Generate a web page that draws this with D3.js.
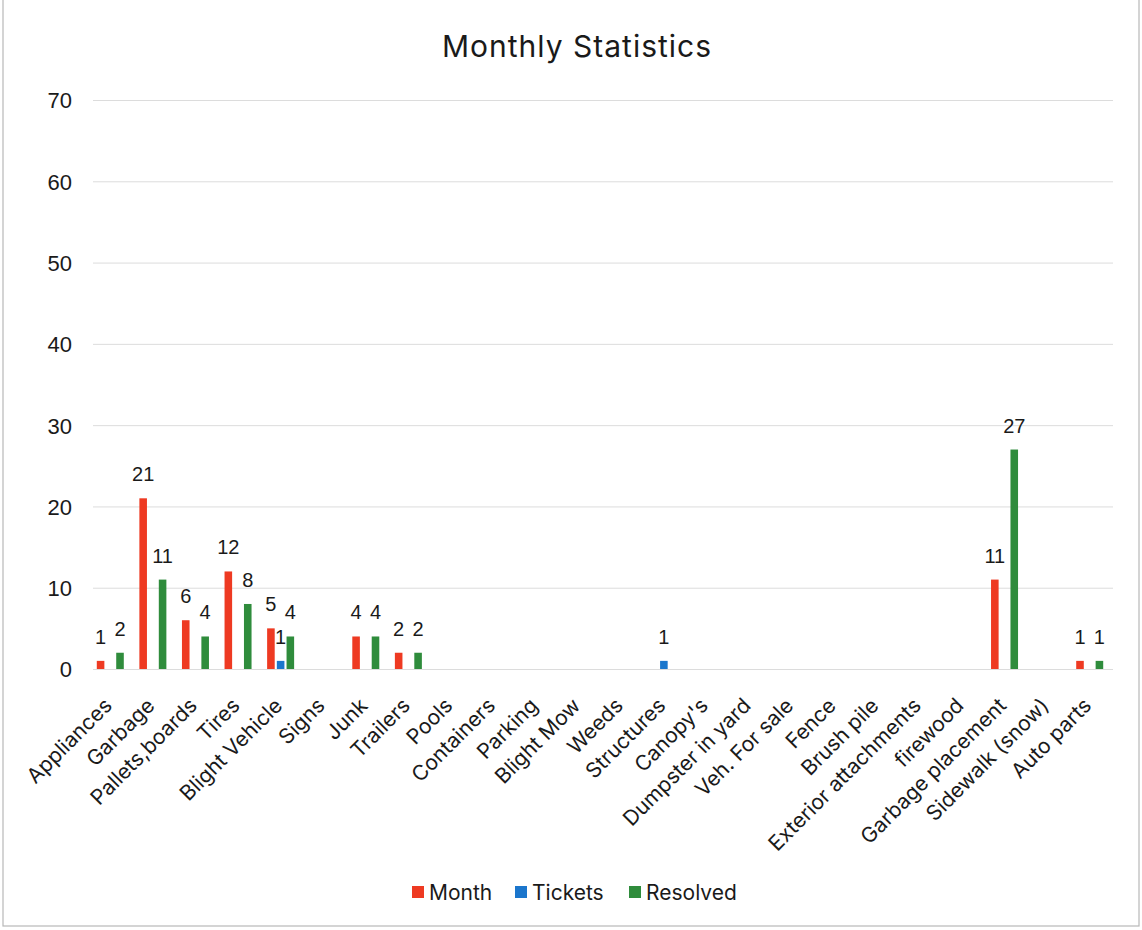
<!DOCTYPE html>
<html>
<head>
<meta charset="utf-8">
<script src="https://cdn.jsdelivr.net/npm/d3@7"></script>
<style>
  body { margin: 0; background: #fff; }
  .grid line { stroke: #dcdcdc; stroke-width: 1; }
  .grid path { display: none; }
  .axis text { font-family: "Liberation Sans", Arial, sans-serif; font-size: 22px; fill: #1a1a1a; }
  .cat text { font-family: Inter, "Open Sans", sans-serif; font-size: 21px; fill: #1a1a1a; }
  .lbl { font-family: "Liberation Sans", Arial, sans-serif; font-size: 20px; fill: #1a1a1a; }
</style>
</head>
<body>
<script>
// categories and series
const categories = ['Appliances', 'Garbage', 'Pallets,boards', 'Tires', 'Blight Vehicle', 'Signs', 'Junk',
  'Trailers', 'Pools', 'Containers', 'Parking', 'Blight Mow', 'Weeds', 'Structures', "Canopy's",
  'Dumpster in yard', 'Veh. For sale', 'Fence', 'Brush pile', 'Exterior attachments', 'firewood',
  'Garbage placement', 'Sidewalk (snow)', 'Auto parts']
const month    = [1, 21, 6, 12, 5, 0, 4, 2, 0, 0, 0, 0, 0, 0, 0, 0, 0, 0, 0, 0, 0, 11, 0, 1]
const tickets  = [0, 0, 0, 0, 1, 0, 0, 0, 0, 0, 0, 0, 0, 1, 0, 0, 0, 0, 0, 0, 0, 0, 0, 0]
const resolved = [2, 11, 4, 8, 4, 0, 4, 2, 0, 0, 0, 0, 0, 0, 0, 0, 0, 0, 0, 0, 0, 27, 0, 1]
const seriesNames = ['Month', 'Tickets', 'Resolved']
const yTicks = [0, 10, 20, 30, 40, 50, 60, 70]

const colors = {Month: '#ee3a22', Tickets: '#1b76cc', Resolved: '#2f8c3c'}
const series = [
  {name: 'Month', values: month},
  {name: 'Tickets', values: tickets},
  {name: 'Resolved', values: resolved}
]

const width = 1142
const height = 930

const svg = d3.select('body').append('svg')
    .attr('width', width)
    .attr('height', height)

// scan frame
svg.append('rect')
  .attr('x', 3).attr('y', -2)
  .attr('width', 1136).attr('height', 928)
  .attr('fill', 'none')
  .attr('stroke', '#b8b8b8')
  .attr('stroke-width', 1.2)

const x = d3.scaleBand().domain(categories).range([89, 1111]).padding(0)
const xs = d3.scaleBand().domain(seriesNames)
  .range([x.bandwidth() / 2 - 13.5, x.bandwidth() / 2 + 13.5])
  .paddingInner(0.22)
const y = d3.scaleLinear().domain([0, 70]).range([669, 100])

svg.append('text')
  .attr('x', 577).attr('y', 57)
  .attr('text-anchor', 'middle')
  .style('font-family', 'Inter, "Open Sans", sans-serif')
  .style('font-size', '30px')
  .style('letter-spacing', '1px')
  .style('fill', '#1a1a1a')
  .text('Monthly Statistics')

svg.append('g')
  .attr('class', 'grid')
  .attr('transform', 'translate(93, 0)')
  .call(d3.axisLeft(y).tickValues(yTicks).tickSize(-1020).tickFormat(''))

svg.append('g')
  .attr('class', 'axis')
  .attr('transform', 'translate(72, 0)')
  .call(d3.axisLeft(y).tickValues(yTicks).tickSize(0).tickPadding(0))
  .call((g) => g.select('.domain').remove())
  .selectAll('text').attr('dy', '0.36em')

const cat = svg.append('g')
  .attr('class', 'cat')
  .attr('transform', 'translate(3, 707)')
  .call(d3.axisBottom(x).tickSize(0).tickPadding(0))
cat.select('.domain').remove()
cat.selectAll('text')
  .attr('text-anchor', 'end')
  .attr('y', 0)
  .attr('dy', 0)
  .attr('transform', 'rotate(-45)')

const groups = svg.selectAll('.cat-group')
  .data(categories)
  .enter().append('g')
  .attr('transform', (d) => `translate(${x(d)}, 0)`)

groups.selectAll('rect')
  .data((d, i) => series.map((s) => ({name: s.name, value: s.values[i]})).filter((v) => v.value > 0))
  .enter().append('rect')
  .attr('x', (d) => xs(d.name))
  .attr('y', (d) => y(d.value))
  .attr('width', xs.bandwidth())
  .attr('height', (d) => y(0) - y(d.value))
  .attr('fill', (d) => colors[d.name])

groups.selectAll('.lbl')
  .data((d, i) => series.map((s) => ({name: s.name, value: s.values[i]})).filter((v) => v.value > 0))
  .enter().append('text')
  .attr('class', 'lbl')
  .attr('x', (d) => xs(d.name) + xs.bandwidth() / 2)
  .attr('y', (d) => y(d.value) - 17)
  .attr('text-anchor', 'middle')
  .text((d) => d.value)

// legend
const legendX = [412, 515, 629]
const legend = svg.append('g')
  .selectAll('g')
  .data(seriesNames)
  .enter().append('g')
  .attr('transform', (d, i) => `translate(${legendX[i]}, 892)`)

legend.append('rect')
  .attr('x', 0).attr('y', -6)
  .attr('width', 12).attr('height', 12)
  .attr('fill', (d) => colors[d])

legend.append('text')
  .attr('x', 17).attr('y', 0)
  .attr('dy', '0.36em')
  .style('font-family', 'Inter, "Open Sans", sans-serif')
  .style('font-size', '21px')
  .style('fill', '#1a1a1a')
  .text((d) => d)
</script>
</body>
</html>
